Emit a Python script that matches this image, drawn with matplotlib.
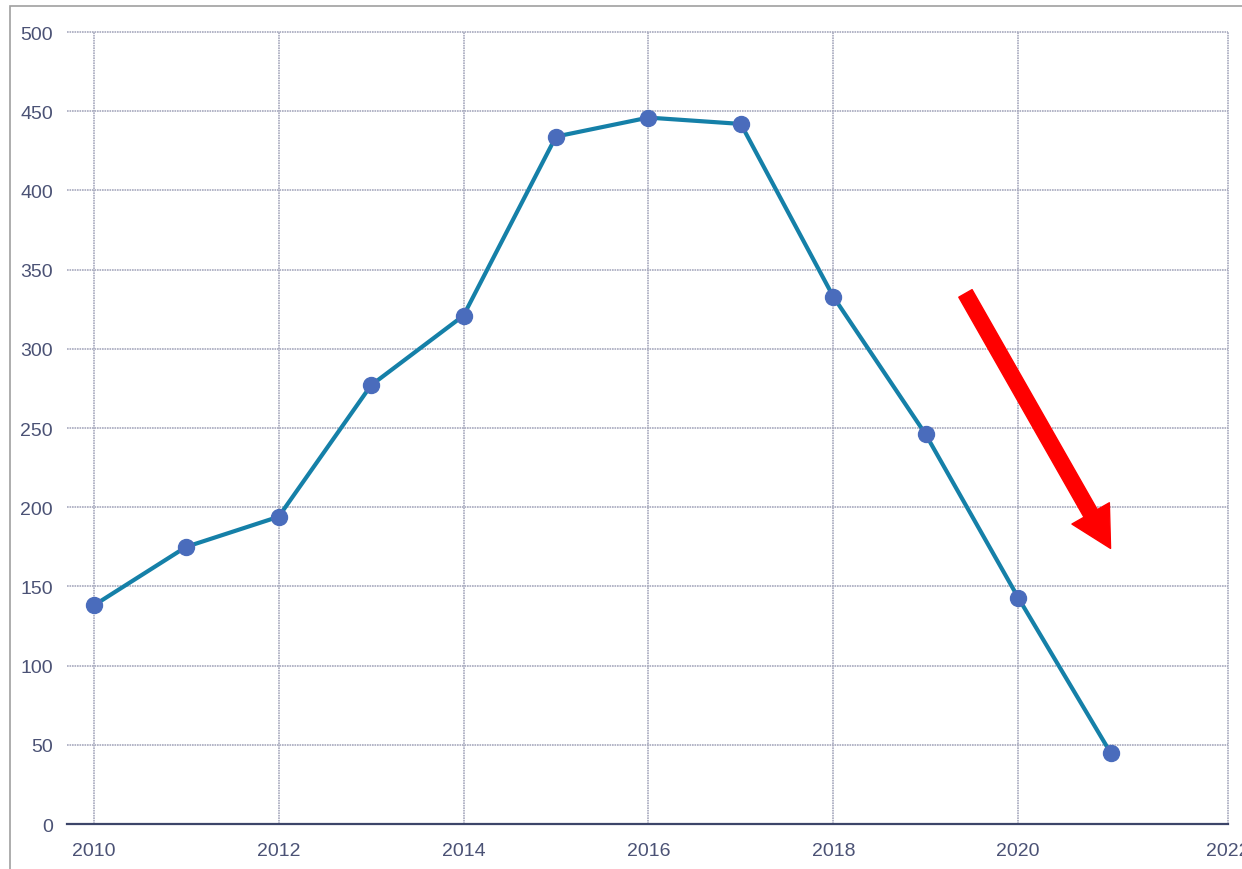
import matplotlib.pyplot as plt
from matplotlib.patches import Rectangle

# --- data ---
years = [2010, 2011, 2012, 2013, 2014, 2015, 2016, 2017, 2018, 2019, 2020, 2021]
values = [138, 175, 194, 277, 321, 434, 446, 442, 333, 246, 143, 45]

x_ticks = [2010, 2012, 2014, 2016, 2018, 2020, 2022.27]
x_tick_labels = ['2010', '2012', '2014', '2016', '2018', '2020', '2022']
y_ticks = list(range(0, 501, 50))

arrow_tail = (2019.43, 335)
arrow_tip = (2021.0, 174)

# --- figure ---
plt.rcParams['font.family'] = ['Liberation Sans', 'DejaVu Sans']
fig = plt.figure(figsize=(12.42, 8.70), dpi=100)
ax = fig.add_axes([0.0539, 0.0517, 0.9348, 0.9103])

grid_color = '#a7a9bd'
ax.set_xlim(2009.71, 2022.27)
ax.set_ylim(0, 500)
ax.set_xticks(x_ticks)
ax.set_xticklabels(x_tick_labels)
ax.set_yticks(y_ticks)
ax.grid(True, color=grid_color, linestyle=(0, (1, 0.5)), linewidth=1.2)
ax.set_axisbelow(True)
for gl in ax.get_xgridlines() + ax.get_ygridlines():
    gl.set_clip_on(False)

ax.tick_params(axis='both', length=0, labelsize=14, labelcolor='#4b5275')
ax.tick_params(axis='y', pad=10)
ax.tick_params(axis='x', pad=13)
for side in ['top', 'right', 'left']:
    ax.spines[side].set_visible(False)
ax.spines['bottom'].set_color('#3c4569')
ax.spines['bottom'].set_linewidth(1.6)

# series
ax.plot(years, values, color='#1580a8', linewidth=3.0, zorder=3)
ax.plot(years, values, linestyle='none', marker='o', markersize=11.5,
        color='#4a6cbc', zorder=4)

# red trend arrow
ax.annotate('', xy=arrow_tip, xytext=arrow_tail,
            arrowprops=dict(arrowstyle='simple,head_length=1.45,head_width=1.55,tail_width=0.55',
                            color='#ff0000', shrinkA=0, shrinkB=0, mutation_scale=20),
            zorder=5)

# outer frame of the screenshot
fig.add_artist(Rectangle((10 / 1242, -0.1), 1.2, (870 - 7) / 870 + 0.1,
                         transform=fig.transFigure, fill=False,
                         edgecolor='#a0a0a0', linewidth=1.2))

fig.savefig('out.png', dpi=100)
